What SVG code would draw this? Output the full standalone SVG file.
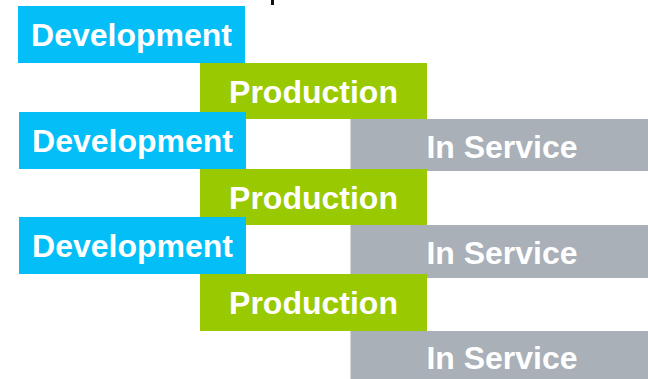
<svg xmlns="http://www.w3.org/2000/svg" width="648" height="379" viewBox="0 0 648 379">
<style>
.dev{fill:#04BEF8}
.prod{fill:#99C900}
.svc{fill:#A9B0B7}
.t{font-family:"Liberation Sans",Arial,sans-serif;font-weight:bold;font-size:32px;fill:#FFFFFF;text-anchor:middle}
</style>
<rect width="648" height="379" fill="#FFFFFF"/>
<rect x="271" y="0" width="3" height="5" fill="#111111"/>
<g id="connectors"></g>
<g id="dev1"><rect class="dev" x="18" y="6" width="227" height="57"/><text class="t" x="131.5" y="46">Development</text></g>
<g id="prod1"><rect class="prod" x="200" y="63" width="227" height="56"/><text class="t" x="313.5" y="102.5">Production</text></g>
<g id="dev2"><rect class="dev" x="19" y="112" width="227" height="57"/><text class="t" x="132.5" y="151.5">Development</text></g>
<g id="svc1"><rect class="svc" x="350.5" y="119" width="297.5" height="52"/><text class="t" x="502" y="157.5">In Service</text></g>
<g id="prod2"><rect class="prod" x="200" y="169" width="227" height="56"/><text class="t" x="313.5" y="208.5">Production</text></g>
<g id="dev3"><rect class="dev" x="19" y="217" width="227" height="57"/><text class="t" x="132.5" y="256.5">Development</text></g>
<g id="svc2"><rect class="svc" x="350.5" y="225" width="297.5" height="53"/><text class="t" x="502" y="263.5">In Service</text></g>
<g id="prod3"><rect class="prod" x="200" y="274" width="227" height="57"/><text class="t" x="313.5" y="314">Production</text></g>
<g id="svc3"><rect class="svc" x="350.5" y="331" width="297.5" height="48"/><text class="t" x="502" y="368.5">In Service</text></g>
</svg>
